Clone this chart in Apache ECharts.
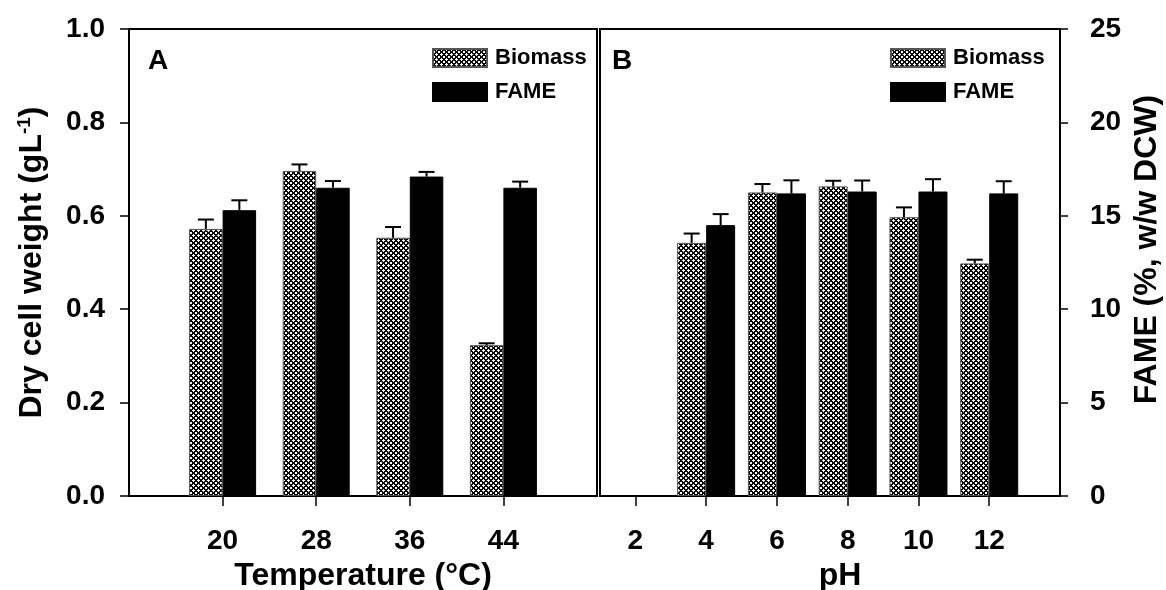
<!DOCTYPE html>
<html>
<head>
<meta charset="utf-8">
<script src="https://cdn.jsdelivr.net/npm/echarts@6/dist/echarts.min.js"></script>
<style>
  html, body { margin: 0; padding: 0; background: #fff; }
  #chart { width: 1166px; height: 590px; }
</style>
</head>
<body>
<div id="chart"></div>
<script>
// panel A: temperature
const tempAxis = ['12', '20', '28', '36', '44', '52'];
const temps = ['20', '28', '36', '44'];
const tempBiomass = [0.572, 0.696, 0.553, 0.323];
const tempBiomassErr = [0.020, 0.014, 0.023, 0.004];
const tempFame = [15.3, 16.5, 17.1, 16.5];
const tempFameErr = [0.53, 0.36, 0.25, 0.33];

// panel B: pH
const phAxis = ['1', '2', '3', '4', '5', '6', '7', '8', '9', '10', '11', '12', '13', '14'];
const phs = ['2', '4', '6', '8', '10', '12'];
const phBiomass = [null, 0.542, 0.650, 0.663, 0.597, 0.498];
const phBiomassErr = [null, 0.020, 0.018, 0.012, 0.021, 0.008];
const phFame = [null, 14.5, 16.2, 16.3, 16.3, 16.2];
const phFameErr = [null, 0.59, 0.70, 0.59, 0.66, 0.65];

const FONT = "'Liberation Sans', Arial, sans-serif";

// 交叉网纹填充
function makeHatch() {
  const n = 5;
  const c = document.createElement('canvas');
  c.width = n; c.height = n;
  const ctx = c.getContext('2d');
  const img = ctx.createImageData(n, n);
  for (let y = 0; y < n; y++) {
    for (let x = 0; x < n; x++) {
      const dark = (x + y) % n < 2 || (x - y + 2 * n) % n < 2;
      const v = dark ? 10 : 255;
      const i = (y * n + x) * 4;
      img.data[i] = v; img.data[i + 1] = v; img.data[i + 2] = v; img.data[i + 3] = 255;
    }
  }
  ctx.putImageData(img, 0, 0);
  return c;
}
const hatch = { image: makeHatch(), repeat: 'repeat' };

function pairs(cats, vals) {
  return cats.map((c, i) => [c, vals[i]]).filter(d => d[1] != null);
}
function errPairs(cats, vals, errs) {
  return cats.map((c, i) => [c, vals[i], errs[i]]).filter(d => d[1] != null);
}

function errRender(offset) {
  return function (params, api) {
    const x = api.value(0), v = api.value(1), e = api.value(2);
    const base = api.coord([x, v]);
    const top = api.coord([x, v + e]);
    const cx = base[0] + offset;
    return {
      type: 'group',
      children: [
        { type: 'line', shape: { x1: cx, y1: base[1], x2: cx, y2: top[1] }, style: { stroke: '#000', lineWidth: 2 } },
        { type: 'line', shape: { x1: cx - 8, y1: top[1], x2: cx + 8, y2: top[1] }, style: { stroke: '#000', lineWidth: 2 } }
      ]
    };
  };
}

const axisLabelStyle = { color: '#000', fontFamily: FONT, fontWeight: 'bold', fontSize: 28 };
const nameStyle = { color: '#000', fontFamily: FONT, fontWeight: 'bold', fontSize: 32 };

let chart = echarts.init(document.getElementById('chart'));
let option = {
  animation: false,
  textStyle: { fontFamily: FONT },
  title: [
    { text: 'A', left: 143, top: 42, textStyle: { fontFamily: FONT, fontWeight: 'bold', fontSize: 28, color: '#000' } },
    { text: 'B', left: 607, top: 42, textStyle: { fontFamily: FONT, fontWeight: 'bold', fontSize: 28, color: '#000' } }
  ],
  legend: [
    {
      left: 427, top: 42, orient: 'vertical', itemWidth: 54, itemHeight: 18, itemGap: 12, icon: 'rect',
      data: ['Biomass', 'FAME'],
      textStyle: { fontFamily: FONT, fontWeight: 'bold', fontSize: 22, color: '#000', padding: [0, 0, 0, 3] }
    },
    {
      left: 885, top: 42, orient: 'vertical', itemWidth: 54, itemHeight: 18, itemGap: 12, icon: 'rect',
      data: ['Biomass', 'FAME'],
      textStyle: { fontFamily: FONT, fontWeight: 'bold', fontSize: 22, color: '#000', padding: [0, 0, 0, 3] }
    }
  ],
  grid: [
    { left: 129, right: 569, top: 29, bottom: 94, show: true, borderColor: '#000', borderWidth: 2, outerBoundsMode: 'none', containLabel: false },
    { left: 600, right: 106, top: 29, bottom: 94, show: true, borderColor: '#000', borderWidth: 2, outerBoundsMode: 'none', containLabel: false }
  ],
  xAxis: [
    {
      gridIndex: 0, type: 'category', data: tempAxis, boundaryGap: false,
      name: 'Temperature (°C)', nameLocation: 'middle', nameGap: 63, nameTextStyle: nameStyle,
      axisLine: { lineStyle: { color: '#000', width: 2 } },
      axisTick: { length: 10, lineStyle: { color: '#000', width: 1.5 }, interval: (i) => i > 0 && i < tempAxis.length - 1 },
      axisLabel: Object.assign({ margin: 31, interval: (i) => i > 0 && i < tempAxis.length - 1 }, axisLabelStyle),
      splitLine: { show: false }
    },
    {
      gridIndex: 1, type: 'category', data: phAxis, boundaryGap: false,
      name: 'pH', nameLocation: 'middle', nameGap: 63,
      nameTextStyle: Object.assign({ padding: [0, 0, 0, 20] }, nameStyle),
      axisLine: { lineStyle: { color: '#000', width: 2 } },
      axisTick: { length: 10, lineStyle: { color: '#000', width: 1.5 }, interval: (i, v) => phs.indexOf(v) >= 0 },
      axisLabel: Object.assign({ margin: 31, interval: (i, v) => phs.indexOf(v) >= 0 }, axisLabelStyle),
      splitLine: { show: false }
    }
  ],
  yAxis: [
    {
      gridIndex: 0, type: 'value', min: 0, max: 1, interval: 0.2, position: 'left',
      name: '{a|Dry cell weight (gL}{s|-1}{a|)}', nameLocation: 'middle', nameGap: 80,
      nameTextStyle: {
        rich: {
          a: nameStyle,
          s: { color: '#000', fontFamily: FONT, fontWeight: 'bold', fontSize: 19, verticalAlign: 'top', padding: [0, 0, 15, 0] }
        }
      },
      axisLine: { show: true, lineStyle: { color: '#000', width: 2 } },
      axisTick: { show: true, length: 9, lineStyle: { color: '#000', width: 1.5 } },
      axisLabel: Object.assign({ margin: 24, formatter: (v) => v.toFixed(1) }, axisLabelStyle),
      splitLine: { show: false }
    },
    { gridIndex: 0, type: 'value', min: 0, max: 25, show: false, splitLine: { show: false } },
    { gridIndex: 1, type: 'value', min: 0, max: 1, show: false, splitLine: { show: false } },
    {
      gridIndex: 1, type: 'value', min: 0, max: 25, interval: 5, position: 'right',
      name: 'FAME (%, w/w DCW)', nameLocation: 'middle', nameGap: 71,
      nameTextStyle: Object.assign({ padding: [0, 0, 0, 26] }, nameStyle),
      axisLine: { show: true, lineStyle: { color: '#000', width: 2 } },
      axisTick: { show: true, length: 8, lineStyle: { color: '#000', width: 1.5 } },
      axisLabel: Object.assign({ margin: 30 }, axisLabelStyle),
      splitLine: { show: false }
    }
  ],
  series: [
    {
      name: 'Biomass', type: 'bar', xAxisIndex: 0, yAxisIndex: 0, barWidth: 33.5, barGap: '0%',
      itemStyle: { color: hatch, borderColor: '#555', borderWidth: 1 },
      data: pairs(temps, tempBiomass)
    },
    {
      name: 'FAME', type: 'bar', xAxisIndex: 0, yAxisIndex: 1, barWidth: 33.5, barGap: '0%',
      itemStyle: { color: '#000', borderColor: '#000', borderWidth: 1 },
      data: pairs(temps, tempFame)
    },
    {
      name: 'Biomass', type: 'bar', xAxisIndex: 1, yAxisIndex: 2, barWidth: 29, barGap: '0%',
      itemStyle: { color: hatch, borderColor: '#555', borderWidth: 1 },
      data: pairs(phs, phBiomass)
    },
    {
      name: 'FAME', type: 'bar', xAxisIndex: 1, yAxisIndex: 3, barWidth: 29, barGap: '0%',
      itemStyle: { color: '#000', borderColor: '#000', borderWidth: 1 },
      data: pairs(phs, phFame)
    },
    {
      type: 'custom', xAxisIndex: 0, yAxisIndex: 0, z: 5, encode: { x: 0, y: 1 },
      renderItem: errRender(-16.75), data: errPairs(temps, tempBiomass, tempBiomassErr)
    },
    {
      type: 'custom', xAxisIndex: 0, yAxisIndex: 1, z: 5, encode: { x: 0, y: 1 },
      renderItem: errRender(16.75), data: errPairs(temps, tempFame, tempFameErr)
    },
    {
      type: 'custom', xAxisIndex: 1, yAxisIndex: 2, z: 5, encode: { x: 0, y: 1 },
      renderItem: errRender(-14.5), data: errPairs(phs, phBiomass, phBiomassErr)
    },
    {
      type: 'custom', xAxisIndex: 1, yAxisIndex: 3, z: 5, encode: { x: 0, y: 1 },
      renderItem: errRender(14.5), data: errPairs(phs, phFame, phFameErr)
    }
  ]
};
option && chart.setOption(option);
</script>
</body>
</html>
